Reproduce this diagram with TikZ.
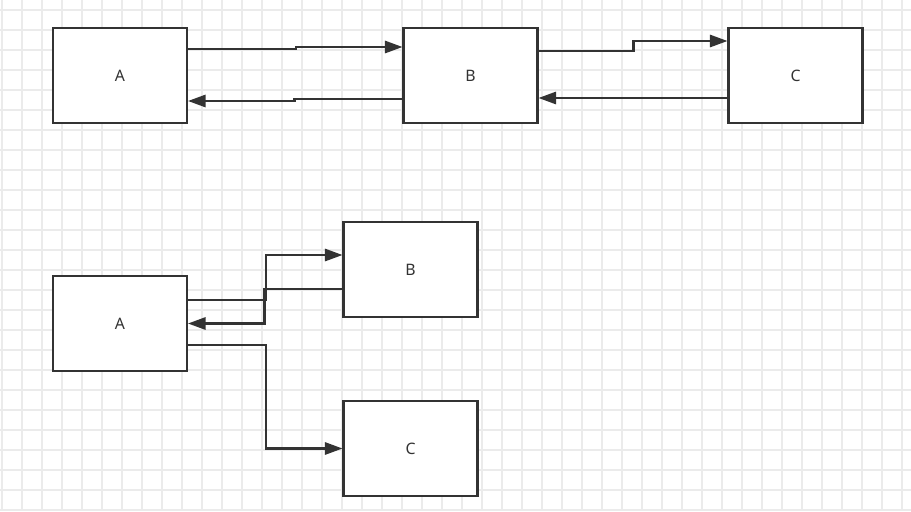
\documentclass[tikz,border=0pt]{standalone}
\usepackage{fontspec}
\setmainfont{Noto Sans}
\usetikzlibrary{arrows.meta}
\definecolor{ink}{HTML}{333333}
\definecolor{gridgray}{HTML}{EBEBEB}
\tikzstyle{box} = [rectangle, draw=ink, line width=1.2pt, fill=white,
minimum width=2.68cm, minimum height=1.9cm, inner sep=0pt, text=ink, font=\small]
\tikzstyle{line} = [draw=ink, line width=1.2pt, -{Triangle[length=10pt,width=7pt]}]

\begin{document}
\begin{tikzpicture}[x=0.02cm, y=0.02cm]
\useasboundingbox (0,0) rectangle (911,511);
% Grid
\foreach \gx in {2,22,...,902} \draw [gridgray, line width=0.6pt] (\gx,0) -- (\gx,511);
\foreach \gy in {1,21,...,501} \draw [gridgray, line width=0.6pt] (0,\gy) -- (911,\gy);
% Place nodes
\node [box] (topA) at (120,435.5) {A};
\node [box] (topB) at (470.5,435.5) {B};
\node [box] (topC) at (795.5,435.5) {C};
\node [box] (botA) at (120,187.5) {A};
\node [box] (botB) at (410.5,241.5) {B};
\node [box] (botC) at (410.5,62.5) {C};
% Draw edges
\path [line] ([yshift=0.53cm]topA.east) -- ++(2.16cm,0) |- ([yshift=0.57cm]topB.west);
\path [line] ([yshift=-0.47cm]topB.west) -- ++(-2.16cm,0) |- ([yshift=-0.51cm]topA.east);
\path [line] ([yshift=0.49cm]topB.east) -- ++(1.9cm,0) |- ([yshift=0.69cm]topC.west);
\path [line] ([yshift=-0.45cm]topC.west) -- ([yshift=-0.45cm]topB.east);
\path [line] ([yshift=0.47cm]botA.east) -- ++(1.56cm,0) |- ([yshift=0.29cm]botB.west);
\path [line] ([yshift=-0.39cm]botB.west) -- ++(-1.56cm,0) |- (botA.east);
\path [line] ([yshift=-0.43cm]botA.east) -- ++(1.56cm,0) |- (botC.west);
\end{tikzpicture}
\end{document}
